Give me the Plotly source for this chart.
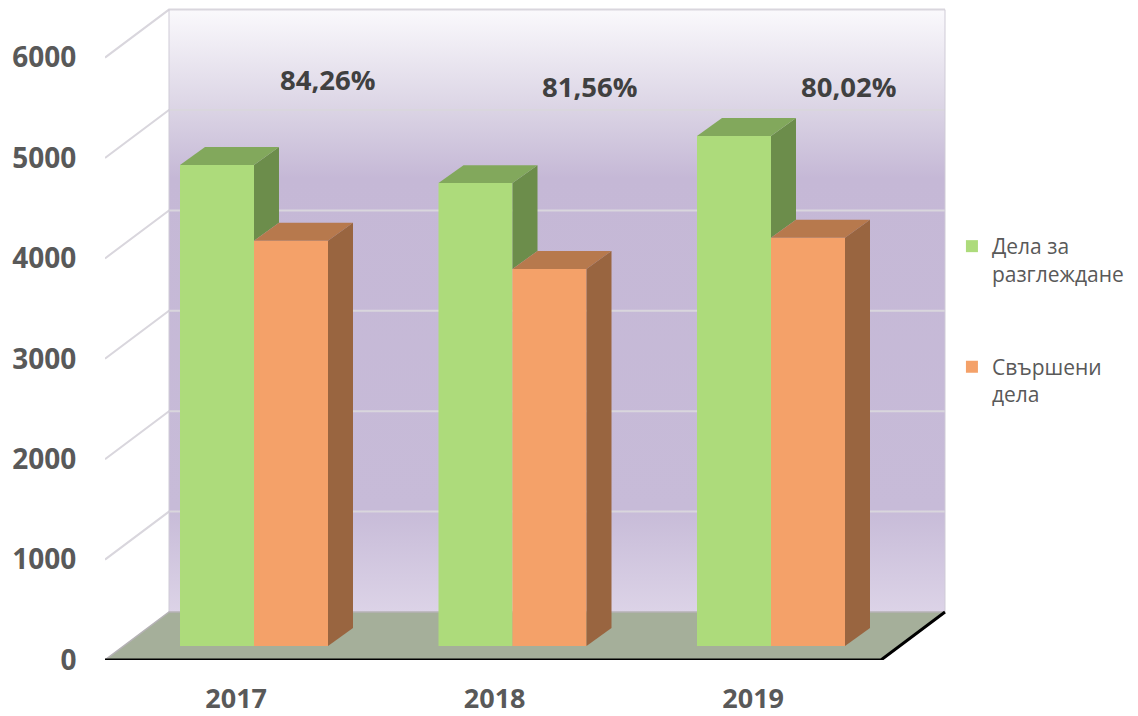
import plotly.graph_objects as go

years = ["2017", "2018", "2019"]
reviewed = [4790, 4610, 5080]
completed = [4035, 3755, 4065]
shares = ["84,26%", "81,56%", "80,02%"]
share_levels = [5780, 5710, 5710]
share_shift = [0.286, 0.30, 0.30]
y_ticks = [0, 1000, 2000, 3000, 4000, 5000, 6000]
names = ["Дела за<br>разглеждане", "Свършени<br>дела"]

W, H = 1138, 716
ML, MR, MT, MB = 105, 178, 0, 56
PX_X = 258.5          # pixels per category
PX_Y = 0.1004         # pixels per value unit
X0 = (ML - 254) / PX_X
X1 = ((W - MR) - 254) / PX_X
Y1 = (H - MB) / PX_Y

# projection of chart depth
WALL_DX, WALL_DY = 64 / PX_X, 478
WALL_L = X0
WALL_R = (945 - 254 - 64) / PX_X
BAR_W = 74 / PX_X
BAR_DX, BAR_DY = 25 / PX_X, 179
BASE = 140

GREEN, GREEN_TOP, GREEN_SIDE = "#ADDB7B", "#82A85C", "#6C8D4B"
ORANGE, ORANGE_TOP, ORANGE_SIDE = "#F4A169", "#B7794D", "#996540"
GRID = "#D9D6DD"
TICK = "#595959"
FONT = "Open Sans"

fig = go.Figure()

def poly(xs, ys, color, axes=("x", "y")):
    fig.add_trace(go.Scatter(x=xs + xs[:1], y=ys + ys[:1], mode="lines", fill="toself",
                             fillcolor=color, line=dict(width=0), hoverinfo="skip",
                             showlegend=False, xaxis=axes[0], yaxis=axes[1]))

top = y_ticks[-1]
# back wall with gradient
wl, wr = WALL_L + WALL_DX, WALL_R + WALL_DX
fig.add_trace(go.Scatter(
    x=[wl, wr, wr, wl, wl], y=[WALL_DY, WALL_DY, top + WALL_DY, top + WALL_DY, WALL_DY],
    mode="lines", line=dict(width=0), fill="toself", hoverinfo="skip", showlegend=False,
    fillgradient=dict(type="vertical", colorscale=[
        [0.0, "#DCD3E7"], [0.17, "#C7BBD8"], [0.72, "#C5B8D6"],
        [0.83, "#DAD3E4"], [1.0, "#FAF9FC"]])))
# floor
poly([WALL_L, WALL_R, wr, wl], [0, 0, WALL_DY, WALL_DY], "#A5AF9A")
# side-wall and back-wall grid lines
for v in y_ticks:
    if v == 0:
        continue
    fig.add_trace(go.Scatter(x=[WALL_L, wl, wr], y=[v, v + WALL_DY, v + WALL_DY], mode="lines",
                             line=dict(color=GRID, width=2), hoverinfo="skip", showlegend=False))
fig.add_trace(go.Scatter(x=[wl, wl], y=[WALL_DY, top + WALL_DY], mode="lines",
                         line=dict(color="#CFCBD6", width=1), hoverinfo="skip", showlegend=False))
fig.add_trace(go.Scatter(x=[wr, wr], y=[WALL_DY, top + WALL_DY], mode="lines",
                         line=dict(color="#CFCBD6", width=1), hoverinfo="skip", showlegend=False))
fig.add_trace(go.Scatter(x=[WALL_L, wl, wr], y=[0, WALL_DY, WALL_DY], mode="lines",
                         line=dict(color="#B5B2B5", width=1.5), hoverinfo="skip", showlegend=False))
fig.add_trace(go.Scatter(x=[WALL_L, WALL_R, wr], y=[0, 0, WALL_DY], mode="lines",
                         line=dict(color="#000000", width=3), hoverinfo="skip", showlegend=False))

# bars (front faces)
idx = list(range(len(years)))
fig.add_trace(go.Bar(x=idx, y=reviewed, base=BASE, width=BAR_W, offset=-BAR_W, name=names[0],
                     marker=dict(color=GREEN, line=dict(width=0)), xaxis="x2", yaxis="y2",
                     legendgroup="a"))
fig.add_trace(go.Bar(x=idx, y=completed, base=BASE, width=BAR_W, offset=0, name=names[1],
                     marker=dict(color=ORANGE, line=dict(width=0)), xaxis="x2", yaxis="y2",
                     legendgroup="b"))

# projected faces of bars
ax2 = ("x2", "y2")
for i, g, o in zip(idx, reviewed, completed):
    gt, ot = BASE + g, BASE + o
    gl, m, orr = i - BAR_W, i, i + BAR_W
    poly([m, m + BAR_DX, m + BAR_DX, m], [ot, ot + BAR_DY, gt + BAR_DY, gt], GREEN_SIDE, ax2)
    poly([gl, gl + BAR_DX, m + BAR_DX, m], [gt, gt + BAR_DY, gt + BAR_DY, gt], GREEN_TOP, ax2)
    poly([m, m + BAR_DX, orr + BAR_DX, orr], [ot, ot + BAR_DY, ot + BAR_DY, ot], ORANGE_TOP, ax2)
    poly([orr, orr + BAR_DX, orr + BAR_DX, orr], [BASE, BASE + BAR_DY, ot + BAR_DY, ot], ORANGE_SIDE, ax2)

for i, s, lv, sh in zip(idx, shares, share_levels, share_shift):
    fig.add_annotation(x=i + sh, y=lv, xref="x2", yref="y2", text=f"<b>{s}</b>", showarrow=False,
                       font=dict(family=FONT, size=27.5, color="#404040"))

fig.update_layout(
    width=W, height=H, margin=dict(l=ML, r=MR, t=MT, b=MB, pad=0, autoexpand=False),
    paper_bgcolor="white", plot_bgcolor="rgba(0,0,0,0)", barmode="overlay",
    showlegend=True,
    legend=dict(xref="container", yref="container", x=0.8365, y=1 - 226 / H, xanchor="left",
                yanchor="top", tracegroupgap=63, valign="top",
                font=dict(family=FONT, size=21, color=TICK),
                bgcolor="rgba(0,0,0,0)", itemclick=False, itemdoubleclick=False),
    xaxis=dict(range=[X0, X1], showgrid=False, zeroline=False, showline=False, automargin=False,
               tickmode="array", tickvals=[i - 0.069 for i in idx], ticktext=years,
               ticks="outside", ticklen=15, tickcolor="rgba(0,0,0,0)",
               tickfont=dict(family=FONT, size=27, color=TICK, weight=700)),
    yaxis=dict(range=[0, Y1], showgrid=False, zeroline=False, showline=False, automargin=False,
               tickmode="array", tickvals=y_ticks, ticktext=[str(v) for v in y_ticks],
               ticks="outside", ticklen=22, tickcolor="rgba(0,0,0,0)",
               tickfont=dict(family=FONT, size=28, color=TICK, weight=700)),
    xaxis2=dict(range=[X0, X1], overlaying="x", visible=False),
    yaxis2=dict(range=[0, Y1], overlaying="y", visible=False),
)
fig.write_html("out.html", config=dict(displayModeBar=False),
               post_script="document.body.style.margin='0';")
